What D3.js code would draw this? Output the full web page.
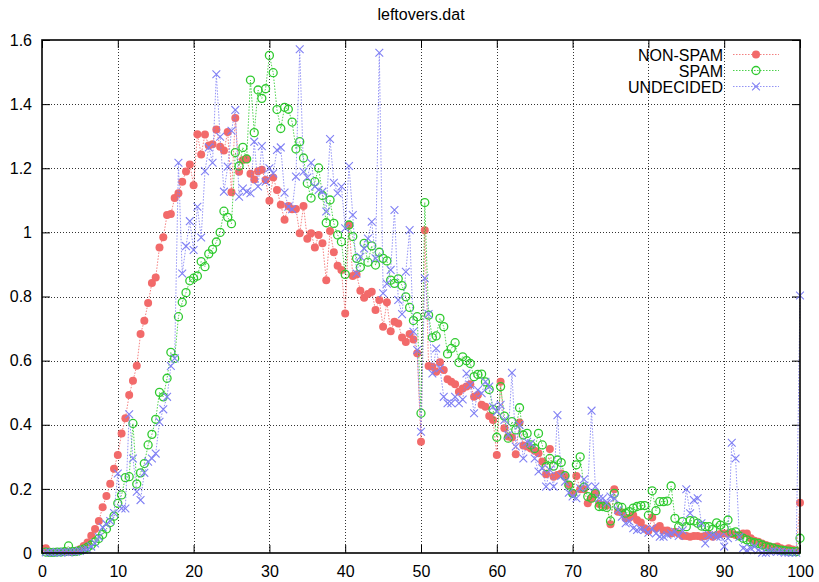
<!DOCTYPE html>
<html>
<head>
<meta charset="utf-8">
<title>leftovers.dat</title>
<script src="https://cdn.jsdelivr.net/npm/d3@7"></script>
<style>
    body { margin: 0; background: #fff; }
    #chart { width: 819px; height: 582px; }
    text { font-family: "Liberation Sans", Arial, Helvetica, sans-serif; font-size: 16px; fill: #000; }
</style>
</head>
<body>
<div id="chart"></div>
<script>
// x runs 0.5, 1.0, ... 100 (one value every X_STEP)
const X_STEP = 0.5;

const nonSpam = [
    0.015, 0.004, 0.003, 0.003, 0.003, 0.004, 0.004, 0.005, 0.007, 0.012,
    0.022, 0.033, 0.054, 0.075, 0.1, 0.143, 0.178, 0.216, 0.263, 0.306,
    0.373, 0.42, 0.493, 0.537, 0.584, 0.683, 0.724, 0.78, 0.842, 0.859,
    0.953, 0.985, 1.054, 1.057, 1.107, 1.122, 1.158, 1.19, 1.212, 1.147,
    1.306, 1.243, 1.305, 1.271, 1.275, 1.321, 1.267, 1.255, 1.313, 1.125,
    1.357, 1.189, 1.226, 1.229, 1.183, 1.165, 1.191, 1.195, 1.163, 1.099,
    1.171, 1.132, 1.086, 1.039, 1.082, 1.072, 1.073, 0.997, 1.082, 0.98,
    0.997, 0.953, 0.992, 0.966, 0.851, 1.004, 0.938, 0.896, 0.883, 0.747,
    1.023, 0.864, 0.869, 0.818, 0.796, 0.808, 0.815, 0.758, 0.789, 0.706,
    0.782, 0.692, 0.721, 0.716, 0.672, 0.658, 0.683, 0.666, 0.623, 0.347,
    1.007, 0.583, 0.581, 0.565, 0.595, 0.571, 0.542, 0.534, 0.526, 0.503,
    0.513, 0.519, 0.526, 0.487, 0.493, 0.462, 0.456, 0.427, 0.415, 0.306,
    0.534, 0.389, 0.363, 0.36, 0.308, 0.407, 0.335, 0.332, 0.326, 0.319,
    0.311, 0.285, 0.246, 0.324, 0.238, 0.243, 0.248, 0.238, 0.212, 0.186,
    0.24, 0.199, 0.199, 0.155, 0.171, 0.186, 0.153, 0.15, 0.148, 0.09,
    0.199, 0.129, 0.126, 0.108, 0.11, 0.118, 0.103, 0.095, 0.077, 0.069,
    0.111, 0.077, 0.084, 0.07, 0.07, 0.061, 0.066, 0.061, 0.053, 0.053,
    0.051, 0.053, 0.053, 0.051, 0.053, 0.056, 0.051, 0.056, 0.059, 0.061,
    0.061, 0.059, 0.056, 0.053, 0.061, 0.061, 0.046, 0.038, 0.035, 0.03,
    0.025, 0.02, 0.018, 0.02, 0.015, 0.011, 0.015, 0.011, 0.008, 0.157
];

const spam = [
    0.003, 0.002, 0.002, 0.003, 0.003, 0.004, 0.022, 0.004, 0.005, 0.008,
    0.012, 0.018, 0.025, 0.035, 0.045, 0.058, 0.075, 0.095, 0.115, 0.155,
    0.181, 0.235, 0.238, 0.404, 0.215, 0.25, 0.279, 0.337, 0.37, 0.417,
    0.501, 0.487, 0.545, 0.626, 0.607, 0.737, 0.782, 0.812, 0.849, 0.857,
    0.864, 0.909, 0.893, 0.933, 0.947, 0.97, 1.0, 1.066, 1.047, 1.027,
    1.249, 1.207, 1.265, 1.229, 1.475, 1.311, 1.444, 1.418, 1.448, 1.552,
    1.498, 1.383, 1.324, 1.39, 1.384, 1.344, 1.26, 1.283, 1.232, 1.153,
    1.107, 1.158, 1.201, 1.115, 1.03, 1.101, 1.028, 0.992, 0.971, 0.869,
    1.023, 0.987, 0.919, 0.891, 0.966, 0.907, 0.958, 0.898, 0.938, 0.919,
    0.911, 0.851, 0.841, 0.855, 0.834, 0.799, 0.766, 0.725, 0.737, 0.436,
    1.093, 0.742, 0.672, 0.677, 0.732, 0.706, 0.621, 0.638, 0.656, 0.594,
    0.612, 0.6, 0.591, 0.55, 0.557, 0.558, 0.534, 0.51, 0.448, 0.361,
    0.519, 0.427, 0.358, 0.41, 0.384, 0.453, 0.368, 0.373, 0.337, 0.326,
    0.373, 0.337, 0.269, 0.295, 0.271, 0.29, 0.282, 0.241, 0.212, 0.186,
    0.275, 0.3, 0.205, 0.176, 0.171, 0.186, 0.145, 0.145, 0.142, 0.1,
    0.186, 0.145, 0.142, 0.124, 0.129, 0.14, 0.145, 0.148, 0.148, 0.118,
    0.194, 0.132, 0.16, 0.16, 0.162, 0.209, 0.108, 0.082, 0.098, 0.082,
    0.101, 0.1, 0.093, 0.084, 0.082, 0.082, 0.074, 0.094, 0.087, 0.077,
    0.103, 0.063, 0.066, 0.053, 0.046, 0.041, 0.035, 0.032, 0.03, 0.025,
    0.02, 0.018, 0.015, 0.011, 0.009, 0.007, 0.006, 0.004, 0.004, 0.046
];

const undecided = [
    0.002, 0.002, 0.001, 0.002, 0.002, 0.003, 0.002, 0.003, 0.004, 0.006,
    0.01, 0.012, 0.02, 0.03, 0.05, 0.08, 0.09, 0.1, 0.125, 0.248,
    0.139, 0.139, 0.433, 0.295, 0.191, 0.165, 0.25, 0.285, 0.295, 0.31,
    0.409, 0.448, 0.487, 0.583, 0.607, 1.217, 0.872, 0.957, 1.035, 0.945,
    1.08, 0.984, 1.191, 1.265, 1.217, 1.493, 1.298, 1.127, 1.205, 1.317,
    1.382, 1.111, 1.137, 1.127, 1.122, 1.283, 1.143, 1.269, 1.158, 1.2,
    1.184, 1.257, 1.265, 1.124, 1.08, 1.072, 1.174, 1.571, 1.189, 1.171,
    1.217, 1.143, 1.132, 1.127, 1.065, 1.291, 1.155, 1.122, 1.143, 1.013,
    1.207, 1.054, 0.872, 0.924, 0.95, 0.981, 1.033, 0.919, 1.56, 0.81,
    0.84, 0.883, 1.07, 0.789, 0.745, 0.877, 1.007, 0.69, 0.633, 0.378,
    0.857, 0.745, 0.56, 0.638, 0.576, 0.487, 0.467, 0.467, 0.487, 0.467,
    0.479, 0.56, 0.524, 0.436, 0.508, 0.498, 0.534, 0.519, 0.456, 0.441,
    0.462, 0.415, 0.368, 0.562, 0.332, 0.399, 0.295, 0.347, 0.342, 0.295,
    0.254, 0.264, 0.207, 0.259, 0.207, 0.43, 0.24, 0.222, 0.188, 0.176,
    0.171, 0.202, 0.23, 0.207, 0.444, 0.207, 0.171, 0.171, 0.155, 0.176,
    0.171, 0.134, 0.113, 0.093, 0.098, 0.077, 0.072, 0.074, 0.072, 0.063,
    0.077, 0.061, 0.051, 0.051, 0.056, 0.061, 0.066, 0.053, 0.07, 0.199,
    0.124, 0.165, 0.171, 0.093, 0.03, 0.056, 0.056, 0.051, 0.051, 0.02,
    0.046, 0.344, 0.295, 0.05, 0.015, 0.009, 0.015, 0.02, 0.009, 0.001,
    0.001, 0.004, 0.007, 0.004, 0.004, 0.001, 0.001, 0.001, 0.001, 0.803
];

const seriesNames = ["NON-SPAM", "SPAM", "UNDECIDED"];
const seriesColors = ["#f26a6a", "#2fca2f", "#8080f4"];
const seriesMarks = ["dot", "circle", "cross"];

const xTicks = [0, 10, 20, 30, 40, 50, 60, 70, 80, 90, 100];
const yTicks = [0, 0.2, 0.4, 0.6, 0.8, 1, 1.2, 1.4, 1.6];
const yTickLabels = ["0", "0.2", "0.4", "0.6", "0.8", "1", "1.2", "1.4", "1.6"];

class GnuLineChart {
    constructor(parentElement) {
        this.parentElement = parentElement;
        this.initVis();
    }

    initVis() {
        let vis = this;

        vis.margin = { top: 40, right: 19, bottom: 29, left: 42 };
        vis.width = 819 - vis.margin.left - vis.margin.right;
        vis.height = 582 - vis.margin.top - vis.margin.bottom;

        vis.root = d3.select("#" + vis.parentElement).append("svg")
            .attr("width", 819)
            .attr("height", 582);

        vis.svg = vis.root.append("g")
            .attr("transform", `translate(${vis.margin.left}, ${vis.margin.top})`);

        // title
        vis.root.append("text")
            .attr("x", vis.margin.left + vis.width / 2)
            .attr("y", 20)
            .attr("text-anchor", "middle")
            .text("leftovers.dat");

        vis.x = d3.scaleLinear().domain([0, 100]).range([0, vis.width]);
        vis.y = d3.scaleLinear().domain([0, 1.6]).range([vis.height, 0]);

        // dotted grid
        let grid = vis.svg.append("g").attr("class", "grid")
            .attr("stroke", "#333")
            .attr("stroke-width", 1)
            .attr("stroke-dasharray", "1,2")
            .attr("shape-rendering", "crispEdges");

        grid.selectAll(".vgrid")
            .data(xTicks.slice(1, -1))
            .enter().append("line")
            .attr("x1", d => Math.round(vis.x(d)) + 0.5)
            .attr("x2", d => Math.round(vis.x(d)) + 0.5)
            .attr("y1", 0)
            .attr("y2", vis.height);

        grid.selectAll(".hgrid")
            .data(yTicks.slice(1, -1))
            .enter().append("line")
            .attr("y1", d => Math.round(vis.y(d)) + 0.5)
            .attr("y2", d => Math.round(vis.y(d)) + 0.5)
            .attr("x1", 0)
            .attr("x2", vis.width);

        // axes with inward ticks, mirrored on top and right
        let tick = 8;
        vis.svg.append("g")
            .attr("transform", `translate(0, ${vis.height})`)
            .call(d3.axisBottom(vis.x).tickValues(xTicks).tickSize(-tick).tickPadding(12.5).tickFormat(d3.format("d")))
            .call(g => g.select(".domain").remove());

        vis.svg.append("g")
            .call(d3.axisTop(vis.x).tickValues(xTicks).tickSize(-tick).tickFormat(""))
            .call(g => g.select(".domain").remove());

        vis.svg.append("g")
            .call(d3.axisLeft(vis.y).tickValues(yTicks).tickSize(-tick).tickPadding(10).tickFormat((d, i) => yTickLabels[i]))
            .call(g => g.select(".domain").remove());

        vis.svg.append("g")
            .attr("transform", `translate(${vis.width}, 0)`)
            .call(d3.axisRight(vis.y).tickValues(yTicks).tickSize(-tick).tickFormat(""))
            .call(g => g.select(".domain").remove());

        vis.svg.selectAll(".tick line").attr("stroke", "#000").attr("stroke-width", 1);
        vis.svg.selectAll(".tick text")
            .style("font-family", '"Liberation Sans", Arial, sans-serif')
            .style("font-size", "16px")
            .attr("fill", "#000");

        vis.line = d3.line()
            .x(d => vis.x(d.x))
            .y(d => vis.y(d.y));

        vis.wrangleData();
    }

    wrangleData() {
        let vis = this;

        vis.displayData = [nonSpam, spam, undecided].map((vals, s) => ({
            name: seriesNames[s],
            color: seriesColors[s],
            mark: seriesMarks[s],
            values: vals.map((v, i) => ({ x: (i + 1) * X_STEP, y: v }))
        }));

        vis.updateVis();
    }

    drawMark(sel, mark, color) {
        if (mark === "dot") {
            sel.append("circle").attr("r", 4).attr("fill", color);
        } else if (mark === "circle") {
            sel.append("circle").attr("r", 4)
                .attr("fill", "none").attr("stroke", color).attr("stroke-width", 1.3);
        } else {
            let s = 3.9;
            sel.append("path")
                .attr("d", `M${-s},${-s}L${s},${s}M${-s},${s}L${s},${-s}`)
                .attr("fill", "none").attr("stroke", color).attr("stroke-width", 1.1);
        }
    }

    updateVis() {
        let vis = this;

        let series = vis.svg.selectAll(".series")
            .data(vis.displayData)
            .enter().append("g")
            .attr("class", "series");

        series.append("path")
            .attr("d", d => vis.line(d.values))
            .attr("fill", "none")
            .attr("stroke", d => d.color)
            .attr("stroke-width", 1)
            .attr("stroke-dasharray", "1.5,1.5")
            .attr("opacity", 0.85);

        series.each(function (d) {
            d3.select(this).selectAll(".pt")
                .data(d.values)
                .enter().append("g")
                .attr("class", "pt")
                .attr("transform", p => `translate(${vis.x(p.x)}, ${vis.y(p.y)})`)
                .each(function () { vis.drawMark(d3.select(this), d.mark, d.color); });
        });

        // frame
        vis.svg.append("rect")
            .attr("x", 0).attr("y", 0)
            .attr("width", vis.width).attr("height", vis.height)
            .attr("fill", "none")
            .attr("stroke", "#000")
            .attr("stroke-width", 1.6);

        // legend, top right
        let legend = vis.root.append("g").attr("class", "legend");
        vis.displayData.forEach((d, i) => {
            let base = 60.5 + i * 16;
            let mid = base - 6;
            legend.append("text")
                .attr("x", 723)
                .attr("y", base)
                .attr("text-anchor", "end")
                .text(d.name);
            legend.append("line")
                .attr("x1", 733).attr("x2", 779)
                .attr("y1", mid).attr("y2", mid)
                .attr("stroke", d.color)
                .attr("stroke-dasharray", "1.5,1.5")
                .attr("opacity", 0.85);
            let m = legend.append("g").attr("transform", `translate(756, ${mid})`);
            vis.drawMark(m, d.mark, d.color);
        });
    }
}

new GnuLineChart("chart");
</script>
</body>
</html>
